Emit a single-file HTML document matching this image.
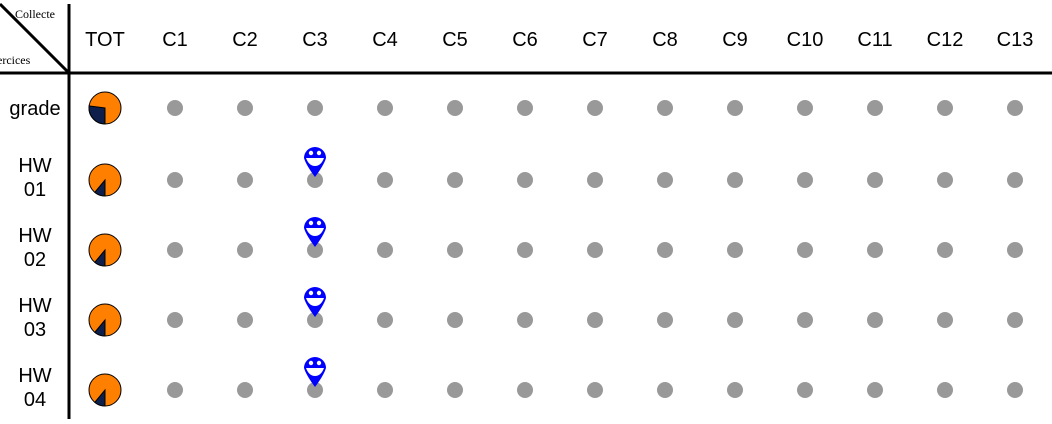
<!DOCTYPE html>
<html><head><meta charset="utf-8"><style>
body{margin:0;background:#fff;width:1052px;height:419px;overflow:hidden}
svg text{font-family:"Liberation Sans",sans-serif}
</style></head><body>
<svg width="1052" height="419">
<line x1="69" y1="4" x2="69" y2="419" stroke="#000" stroke-width="3"/>
<line x1="0" y1="73" x2="1052" y2="73" stroke="#000" stroke-width="3"/>
<line x1="0" y1="4" x2="69" y2="73" stroke="#000" stroke-width="3"/>
<text x="15" y="18" font-size="12" style="font-family:'Liberation Serif',serif">Collecte</text>
<text x="-3" y="64" font-size="12" style="font-family:'Liberation Serif',serif">ercices</text>
<g id="g"></g>
</svg>
<script>
const columns=["TOT","C1","C2","C3","C4","C5","C6","C7","C8","C9","C10","C11","C12","C13"];
const rows=["grade","HW 01","HW 02","HW 03","HW 04"];
const totFraction=[0.27,0.11,0.11,0.11,0.11];
const markers=[[1,3],[2,3],[3,3],[4,3]];
const NS="http://www.w3.org/2000/svg",g=document.getElementById('g');
const cx=i=>105+i*70, cy=j=>108+j*70;
function mk(t,a){const e=document.createElementNS(NS,t);for(const k in a)e.setAttribute(k,a[k]);g.appendChild(e);return e;}
columns.forEach((c,i)=>{const t=mk('text',{x:cx(i),y:46,'font-size':20,'text-anchor':'middle'});t.textContent=c;

});
rows.forEach((r,j)=>{const parts=r.split(' ');
parts.forEach((p,k)=>{const t=mk('text',{x:35,y:cy(j)+7+(parts.length>1?(k===0?-13:11):0),'font-size':20,'text-anchor':'middle'});t.textContent=p;

});
const px=cx(0),py=cy(j)+(j?2:0),R=16,f=totFraction[j];
const pc=mk('circle',{cx:px,cy:py,r:R,fill:'#ff8000',stroke:'#000','stroke-width':1});


const a=Math.PI/2+f*2*Math.PI,ex=px+R*Math.cos(a),ey=py+R*Math.sin(a);
const w=mk('path',{d:`M${px},${py}L${px},${py+R}A${R},${R} 0 ${f>0.5?1:0} 1 ${ex},${ey}Z`,fill:'#0d1f4a',stroke:'#000','stroke-width':1});


for(let i=1;i<columns.length;i++){const d=mk('circle',{cx:cx(i),cy:cy(j)+(j?2:0),r:8,fill:'#999'});

}
});
markers.forEach(([j,i])=>{const x=cx(i),y=cy(j)-20;
const p=mk('path',{d:`M${x-11},${y} A11,11 0 1 1 ${x+11},${y} Q${x+9},${y+7} ${x},${y+19} Q${x-9},${y+7} ${x-11},${y}Z`,fill:'#0000ff'});


mk('circle',{cx:x-4,cy:y-5,r:2.2,fill:'#fff'});mk('circle',{cx:x+4,cy:y-5,r:2.2,fill:'#fff'});
mk('path',{d:`M${x-9},${y} L${x+9},${y} Q${x+6},${y+8} ${x},${y+8} Q${x-6},${y+8} ${x-9},${y}Z`,fill:'#fff'});
});
</script>
</body></html>
